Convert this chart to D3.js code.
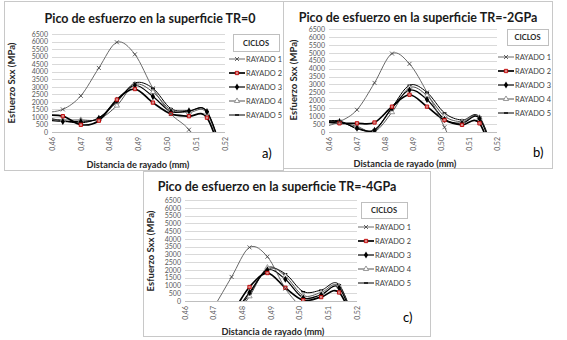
<!DOCTYPE html>
<html>
<head>
<meta charset="utf-8">
<script src="https://cdn.jsdelivr.net/npm/d3@7"></script>
<style>
  body { margin: 0; background: #fff; }
  text { font-family: Lato, "Open Sans", sans-serif; }
</style>
</head>
<body>
<svg id="chart" width="567" height="340"></svg>
<script>
// shared axes
const distances = [0.4575, 0.46375, 0.47, 0.47625, 0.4825, 0.48875, 0.495, 0.50125, 0.5075, 0.51375, 0.52]
const xTicks = [0.46, 0.47, 0.48, 0.49, 0.5, 0.51, 0.52]
const yTicks = [0, 500, 1000, 1500, 2000, 2500, 3000, 3500, 4000, 4500, 5000, 5500, 6000, 6500]
const seriesNames = ['RAYADO 1', 'RAYADO 2', 'RAYADO 3', 'RAYADO 4', 'RAYADO 5']
const panelTitles = [
  'Pico de esfuerzo en la superficie TR=0',
  'Pico de esfuerzo en la superficie TR=-2GPa',
  'Pico de esfuerzo en la superficie TR=-4GPa',
]
const panelTags = ['a)', 'b)', 'c)']

// Sxx values (MPa), one row per RAYADO
const stressTR0 = [
  [1300, 1500, 2400, 4250, 5950, 5150, 2900, 1200, 150, -1800, -3500],
  [1100, 1050, 480, 750, 2150, 2850, 1950, 1200, 1050, 950, -2400],
  [800, 700, 700, 900, 2100, 3100, 2350, 1350, 1400, 1350, -2000],
  [900, 800, 800, 850, 1750, 3150, 2650, 1450, 1300, 1250, -2100],
  [950, 750, 600, 950, 2000, 3250, 2900, 1550, 1400, 1350, -2000],
]
const stressTR2 = [
  [300, 650, 1400, 3100, 4950, 4300, 2500, 300, -2000, -4000, -5000],
  [650, 550, 550, 600, 1600, 2350, 1600, 750, 450, 550, -2500],
  [650, 650, 250, 100, 1500, 2650, 2050, 800, 550, 850, -2200],
  [600, 600, 350, 30, 1250, 2800, 2300, 1000, 650, 900, -2000],
  [650, 700, 200, 150, 1550, 2950, 2500, 1200, 750, 950, -1900],
]
const stressTR4 = [
  [-4000, -2000, -400, 1550, 3450, 2850, 800, -700, -3000, -4000, -5000],
  [-4000, -3000, -2000, -800, 900, 1800, 850, 50, 250, 550, -2000],
  [-4000, -3000, -2000, -1000, 550, 2000, 1400, 200, 400, 850, -2000],
  [-4000, -3000, -2000, -1200, 300, 2150, 1600, 350, 550, 950, -1800],
  [-4000, -3000, -2000, -1100, 450, 2050, 1750, 600, 700, 1050, -1800],
]

// panel layouts (pixels)
const panels = [
  {
    data: stressTR0,
    border: [4, 1, 283, 170],
    plot: { x0: 52, x1: 225, y0: 34, y1: 132 },
    title: [150, 18],
    box: [233, 34, 46, 17],
    legendX: 229,
    rows: [59, 73, 87, 101, 115],
    yTitle: [11, 83],
    xTitle: [138, 164],
    tag: [262, 158],
  },
  {
    data: stressTR2,
    border: [283, 1, 552, 168],
    plot: { x0: 329, x1: 497, y0: 29, y1: 132 },
    title: [418, 17],
    box: [507, 29, 41, 16],
    legendX: 498,
    rows: [57, 71, 85, 99, 113],
    yTitle: [293, 80],
    xTitle: [405, 163],
    tag: [533, 157],
  },
  {
    data: stressTR4,
    border: [143, 171, 430, 336],
    plot: { x0: 185, x1: 357, y0: 200, y1: 301 },
    title: [277, 186],
    box: [361, 202, 46, 16],
    legendX: 358,
    rows: [227, 241, 255, 269, 283],
    yTitle: [150, 251],
    xTitle: [273, 331],
    tag: [403, 322],
  },
]

// series styles
const lineStyles = [
  { stroke: '#595959', width: 0.9 },
  { stroke: '#000', width: 1.7 },
  { stroke: '#000', width: 1.2 },
  { stroke: '#404040', width: 0.9 },
  { stroke: '#000', width: 1 },
]

function drawMarker(sel, i) {
  if (i == 0) {
    sel.append('path')
      .attr('d', 'M-2,-2L2,2M-2,2L2,-2')
      .attr('stroke', '#404040')
      .attr('stroke-width', 0.8)
      .attr('fill', 'none')
  } else if (i == 1) {
    sel.append('path')
      .attr('d', d3.symbol(d3.symbolSquare, 11)())
      .attr('fill', '#d98c8a')
      .attr('stroke', '#c00000')
      .attr('stroke-width', 0.9)
  } else if (i == 2) {
    sel.append('path')
      .attr('d', d3.symbol(d3.symbolDiamond, 15)())
      .attr('fill', '#000')
  } else if (i == 3) {
    sel.append('path')
      .attr('d', d3.symbol(d3.symbolTriangle, 12)())
      .attr('fill', '#fff')
      .attr('stroke', '#808080')
      .attr('stroke-width', 0.8)
  } else {
    sel.append('rect')
      .attr('x', -2)
      .attr('y', -0.7)
      .attr('width', 4)
      .attr('height', 1.4)
      .attr('fill', '#000')
  }
}

const svg = d3.select('#chart')
svg.append('rect').attr('width', 567).attr('height', 340).attr('fill', '#fff')

panels.forEach((p, pi) => {
  const g = svg.append('g').attr('id', 'panel-' + pi)

  // border
  const [bx0, by0, bx1, by1] = p.border
  g.append('rect')
    .attr('x', bx0 + 0.5)
    .attr('y', by0 + 0.5)
    .attr('width', bx1 - bx0)
    .attr('height', by1 - by0)
    .attr('fill', '#fff')
    .attr('stroke', '#c8c8c8')

  const xScale = d3.scaleLinear().domain([0.46, 0.52]).range([p.plot.x0, p.plot.x1])
  const yScale = d3.scaleLinear().domain([0, 6500]).range([p.plot.y1, p.plot.y0])

  // grid
  g.append('g')
    .selectAll('line')
    .data(yTicks)
    .join('line')
    .attr('x1', p.plot.x0)
    .attr('x2', p.plot.x1)
    .attr('y1', (d) => Math.round(yScale(d)) + 0.5)
    .attr('y2', (d) => Math.round(yScale(d)) + 0.5)
    .attr('stroke', (d) => (d == 0 ? '#bfbfbf' : '#d9d9d9'))
    .attr('stroke-width', 1)

  // y axis
  const yAxis = g.append('g')
    .attr('transform', `translate(${p.plot.x0},0)`)
    .call(
      d3.axisLeft(yScale)
        .tickValues(yTicks)
        .tickSize(0)
        .tickPadding(4)
        .tickFormat(d3.format('d'))
    )
  yAxis.select('.domain').remove()
  yAxis.selectAll('text')
    .attr('font-size', 7)
    .attr('fill', '#595959')
    .attr('font-family', 'Lato, sans-serif')

  // x axis
  const xAxis = g.append('g')
    .attr('transform', `translate(0,${p.plot.y1})`)
    .call(
      d3.axisBottom(xScale)
        .tickValues(xTicks)
        .tickSize(0)
        .tickFormat((d) => d3.format('.2f')(d).replace('.', ','))
    )
  xAxis.select('.domain').remove()
  xAxis.selectAll('text')
    .attr('font-size', 7)
    .attr('fill', '#595959')
    .attr('font-family', 'Lato, sans-serif')
    .attr('transform', 'rotate(-90)')
    .attr('text-anchor', 'end')
    .attr('x', -5)
    .attr('y', 0)
    .attr('dy', '0.32em')

  // clip
  const clipId = 'clip-' + pi
  g.append('clipPath')
    .attr('id', clipId)
    .append('rect')
    .attr('x', p.plot.x0)
    .attr('y', p.plot.y0 - 6)
    .attr('width', p.plot.x1 - p.plot.x0)
    .attr('height', p.plot.y1 - p.plot.y0 + 6)

  const line = d3.line()
    .curve(d3.curveCardinal.tension(0))
    .x((d, i) => xScale(distances[i]))
    .y((d) => yScale(d))

  const plotG = g.append('g').attr('clip-path', `url(#${clipId})`)

  // draw back to front: rayado 5 first
  const order = [4, 3, 2, 1, 0]
  order.forEach((si) => {
    const values = p.data[si]
    plotG.append('path')
      .attr('d', line(values))
      .attr('fill', 'none')
      .attr('stroke', lineStyles[si].stroke)
      .attr('stroke-width', lineStyles[si].width)
  })
  order.forEach((si) => {
    const values = p.data[si]
    plotG.append('g')
      .selectAll('g')
      .data(values.map((v, i) => [distances[i], v]).filter((d) => d[1] >= 0))
      .join('g')
      .attr('transform', (d) => `translate(${xScale(d[0])},${yScale(d[1])})`)
      .each(function () {
        drawMarker(d3.select(this), si)
      })
  })

  // title
  g.append('text')
    .attr('x', p.title[0])
    .attr('y', p.title[1])
    .attr('text-anchor', 'middle')
    .attr('dominant-baseline', 'central')
    .attr('font-size', 12.5)
    .attr('font-weight', 'bold')
    .attr('fill', '#1a1a1a')
    .text(panelTitles[pi])

  // axis titles
  g.append('text')
    .attr('transform', `translate(${p.yTitle[0]},${p.yTitle[1]}) rotate(-90)`)
    .attr('text-anchor', 'middle')
    .attr('dominant-baseline', 'central')
    .attr('font-size', 9.5)
    .attr('font-weight', 'bold')
    .attr('fill', '#262626')
    .text('Esfuerzo Sxx (MPa)')

  g.append('text')
    .attr('x', p.xTitle[0])
    .attr('y', p.xTitle[1])
    .attr('text-anchor', 'middle')
    .attr('dominant-baseline', 'central')
    .attr('font-size', 9.2)
    .attr('font-weight', 'bold')
    .attr('fill', '#262626')
    .text('Distancia de rayado (mm)')

  g.append('text')
    .attr('x', p.tag[0])
    .attr('y', p.tag[1])
    .attr('font-size', 13)
    .attr('fill', '#000')
    .text(panelTags[pi])

  // legend
  const [lx, ly, lw, lh] = p.box
  g.append('rect')
    .attr('x', lx + 0.5)
    .attr('y', ly + 0.5)
    .attr('width', lw)
    .attr('height', lh)
    .attr('fill', '#fff')
    .attr('stroke', '#bfbfbf')
  g.append('text')
    .attr('x', lx + lw / 2)
    .attr('y', ly + lh / 2 + 0.5)
    .attr('text-anchor', 'middle')
    .attr('dominant-baseline', 'central')
    .attr('font-size', 7.5)
    .attr('font-weight', 'bold')
    .attr('fill', '#262626')
    .text('CICLOS')

  const rows = g.append('g')
    .selectAll('g')
    .data(seriesNames)
    .join('g')
    .attr('transform', (d, i) => `translate(${p.legendX},${p.rows[i]})`)
  rows.append('line')
    .attr('x1', 0)
    .attr('x2', 16)
    .attr('stroke', (d, i) => lineStyles[i].stroke)
    .attr('stroke-width', (d, i) => lineStyles[i].width)
  rows.append('g')
    .attr('transform', 'translate(8,0)')
    .each(function (d, i) {
      drawMarker(d3.select(this), i)
    })
  rows.append('text')
    .attr('x', 17)
    .attr('dominant-baseline', 'central')
    .attr('font-size', 7.4)
    .attr('fill', '#404040')
    .text((d) => d)
})
</script>
</body>
</html>
